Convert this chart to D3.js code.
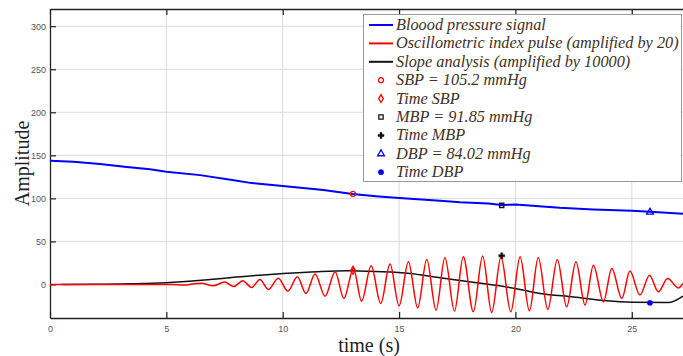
<!DOCTYPE html>
<html>
<head>
<meta charset="utf-8">
<script src="https://cdn.jsdelivr.net/npm/d3@7"></script>
<style>
  body { margin: 0; background: #fff; }
  svg { display: block; }
</style>
</head>
<body>
<div id="chart"></div>
<script>
const width = 683;
const height = 356;

// blood pressure signal [time s, mmHg]
const bpSignal = [
  [0, 143.7], [1, 142.5], [2.15, 140], [3.3, 136.5], [4.3, 133.7], [5, 131],
  [6.45, 127], [7.9, 121], [8.6, 118], [10, 114.3], [11.75, 109.7], [13, 105],
  [14, 102.5], [15, 100.5], [16.76, 97.2], [17.62, 95.5], [18.84, 94], [19.4, 92.2],
  [20, 93], [21.9, 89], [23.35, 87.2], [25, 85.6], [25.78, 84.4], [27.2, 82]
];

// oscillometric index pulse (x20): extrema
const oscPulse = [
  [0, 0], [5.2, 0], [5.8, -0.8], [6.1, 0.4], [6.5, 1.5], [7.0, -1.6], [7.5, 2.7], [7.9, -2.3],
  [8.28, 4.2], [8.67, -3.5], [9.02, 5.8], [9.38, -5.8], [9.81, 7.3], [10.22, -7.8],
  [10.63, 8.8], [11.0, -10.5], [11.39, 12], [11.82, -13.6], [12.25, 14.7], [12.63, -16.3],
  [13.04, 18.6], [13.39, -19.4], [13.8, 21.7], [14.21, -22.1], [14.61, 23.6], [15.0, -24.9],
  [15.4, 26.3], [15.8, -27.2], [16.19, 29], [16.59, -29.9], [16.97, 31.4], [17.38, -31],
  [17.76, 32.1], [18.19, -31.8], [18.59, 32.9], [18.98, -32.6], [19.38, 32.1], [19.8, -31.8],
  [20.2, 32.1], [20.6, -30.7], [20.98, 31.4], [21.39, -29.1], [21.8, 29], [22.2, -26],
  [22.6, 26.3], [22.99, -24], [23.35, 22.4], [23.78, -20.2], [24.14, 18.6], [24.57, -16.3],
  [24.92, 15.5], [25.35, -12.4], [25.76, 10.8], [26.14, -8.6], [26.54, 7], [27.0, -4], [27.2, 1.2]
];

// slope analysis (x10000)
const slopeLine = [
  [0.5, 0], [2, 0.1], [3.44, 0.7], [5, 2], [6.88, 5.8], [8, 8.5], [9, 10.8], [10, 12.6],
  [11.5, 14.8], [12.75, 15.8], [14, 15], [15.47, 12.8], [15.9, 11.2], [17, 6.8], [18.33, 2],
  [20, -4.6], [21.06, -10.5], [22.5, -14.6], [23.92, -19], [25, -20.6], [26.57, -21], [27.2, -13.5]
];

const legendLabels = [
  "Bloood pressure signal",
  "Oscillometric index pulse (amplified by 20)",
  "Slope analysis (amplified by 10000)",
  "SBP = 105.2 mmHg",
  "Time SBP",
  "MBP = 91.85 mmHg",
  "Time MBP",
  "DBP = 84.02 mmHg",
  "Time DBP"
];

// markers [time, value]
const sbpPoint = [13.02, 105.2];
const sbpTime = [13.02, 16.4];
const mbpPoint = [19.41, 91.85];
const mbpTime = [19.41, 33.3];
const dbpPoint = [25.78, 84.02];
const dbpTime = [25.78, -21.4];

const xTicks = [0, 5, 10, 15, 20, 25];
const yTicks = [0, 50, 100, 150, 200, 250, 300];

const plot = { left: 50, right: 683, top: 9, bottom: 318 };

const x = d3.scaleLinear().domain([0, 27.2]).range([plot.left, plot.right]);
const y = d3.scaleLinear().domain([-39, 320]).range([plot.bottom, plot.top]);

const svg = d3.select("#chart").append("svg")
    .attr("width", width)
    .attr("height", height);

// grid
const grid = svg.append("g").attr("stroke", "#dadada").attr("stroke-width", 1);
grid.selectAll(".gx").data(xTicks.filter(d => d > 0)).enter().append("line")
    .attr("x1", d => x(d)).attr("x2", d => x(d))
    .attr("y1", plot.top).attr("y2", plot.bottom);
grid.selectAll(".gy").data(yTicks).enter().append("line")
    .attr("x1", plot.left).attr("x2", plot.right)
    .attr("y1", d => y(d)).attr("y2", d => y(d));

// axes
const tickFont = "'Liberation Sans', Arial, sans-serif";
const xAxis = svg.append("g")
    .attr("transform", `translate(0,${plot.bottom})`)
    .call(d3.axisBottom(x).tickValues(xTicks).tickSizeInner(-6).tickSizeOuter(0).tickPadding(8));
const xTop = svg.append("g")
    .attr("transform", `translate(0,${plot.top})`)
    .call(d3.axisTop(x).tickValues(xTicks).tickSizeInner(-6).tickSizeOuter(0).tickFormat(""));
const yAxis = svg.append("g")
    .attr("transform", `translate(${plot.left},0)`)
    .call(d3.axisLeft(y).tickValues(yTicks).tickSizeInner(-6).tickSizeOuter(0).tickPadding(4));

[xAxis, xTop, yAxis].forEach(g => {
    g.select(".domain").attr("stroke", "#222").attr("stroke-width", 1.3);
    g.selectAll(".tick line").attr("stroke", "#222").attr("stroke-width", 1.2);
    g.selectAll(".tick text")
        .attr("fill", "#555")
        .style("font-family", tickFont)
        .style("font-size", "9px");
});

// series
const line = d3.line().x(d => x(d[0])).y(d => y(d[1]));
const series = svg.append("g").attr("fill", "none");

series.append("path").datum(slopeLine)
    .attr("d", line.curve(d3.curveMonotoneX))
    .attr("stroke", "#111").attr("stroke-width", 1.5);
series.append("path").datum(oscPulse)
    .attr("d", line.curve(d3.curveMonotoneX))
    .attr("stroke", "#ff0000").attr("stroke-width", 1.5);
series.append("path").datum(bpSignal)
    .attr("d", line.curve(d3.curveLinear))
    .attr("stroke", "#0000ff").attr("stroke-width", 2);

// markers
const markerDefs = [
    { p: sbpPoint, type: d3.symbolCircle, size: 20, color: "#ff0000", fill: false },
    { p: sbpTime, type: d3.symbolDiamond, size: 18, color: "#ff0000", fill: false },
    { p: mbpPoint, type: d3.symbolSquare, size: 18, color: "#111", fill: false },
    { p: mbpTime, type: d3.symbolCross, size: 20, color: "#111", fill: true },
    { p: dbpPoint, type: d3.symbolTriangle, size: 20, color: "#0000ff", fill: false },
    { p: dbpTime, type: d3.symbolCircle, size: 22, color: "#0000ff", fill: true }
];
const markers = svg.append("g");
markers.selectAll("path").data(markerDefs).enter().append("path")
    .attr("transform", d => `translate(${x(d.p[0])},${y(d.p[1])})`)
    .attr("d", d => d3.symbol().type(d.type).size(d.size)())
    .attr("fill", d => d.fill ? d.color : "none")
    .attr("stroke", d => d.color)
    .attr("stroke-width", d => d.fill ? 0.5 : 1.3);

// axis labels
const serif = "'Liberation Serif', 'Times New Roman', serif";
svg.append("text")
    .attr("x", 369).attr("y", 352)
    .attr("text-anchor", "middle")
    .style("font-family", serif).style("font-size", "20px")
    .attr("fill", "#222")
    .text("time (s)");
svg.append("text")
    .attr("transform", `translate(29,${(plot.top + plot.bottom) / 2}) rotate(-90)`)
    .attr("text-anchor", "middle")
    .style("font-family", serif).style("font-size", "20px")
    .attr("fill", "#222")
    .text("Amplitude");

// legend
const legend = svg.append("g");
legend.append("rect")
    .attr("x", 363.5).attr("y", 14.5)
    .attr("width", 318).attr("height", 167)
    .attr("fill", "#fff").attr("stroke", "#999").attr("stroke-width", 1);

const rowY = i => 25 + i * 18.4;
const legendItems = legendLabels.map((label, i) => ({ label, i }));
const lineColors = ["#0000ff", "#ff0000", "#111"];

legend.selectAll(".lg-line").data(lineColors).enter().append("line")
    .attr("x1", 369).attr("x2", 393)
    .attr("y1", (d, i) => rowY(i)).attr("y2", (d, i) => rowY(i))
    .attr("stroke", d => d).attr("stroke-width", 2);

legend.selectAll(".lg-mark").data(markerDefs).enter().append("path")
    .attr("transform", (d, i) => `translate(381,${rowY(i + 3)})`)
    .attr("d", d => d3.symbol().type(d.type).size(d.size)())
    .attr("fill", d => d.fill ? d.color : "none")
    .attr("stroke", d => d.color)
    .attr("stroke-width", d => d.fill ? 0.5 : 1.3);

legend.selectAll(".lg-text").data(legendItems).enter().append("text")
    .attr("x", 396).attr("y", d => rowY(d.i) + 5)
    .style("font-family", serif).style("font-size", "16.3px").style("font-style", "italic")
    .attr("fill", "#3f3226")
    .text(d => d.label);
</script>
</body>
</html>
